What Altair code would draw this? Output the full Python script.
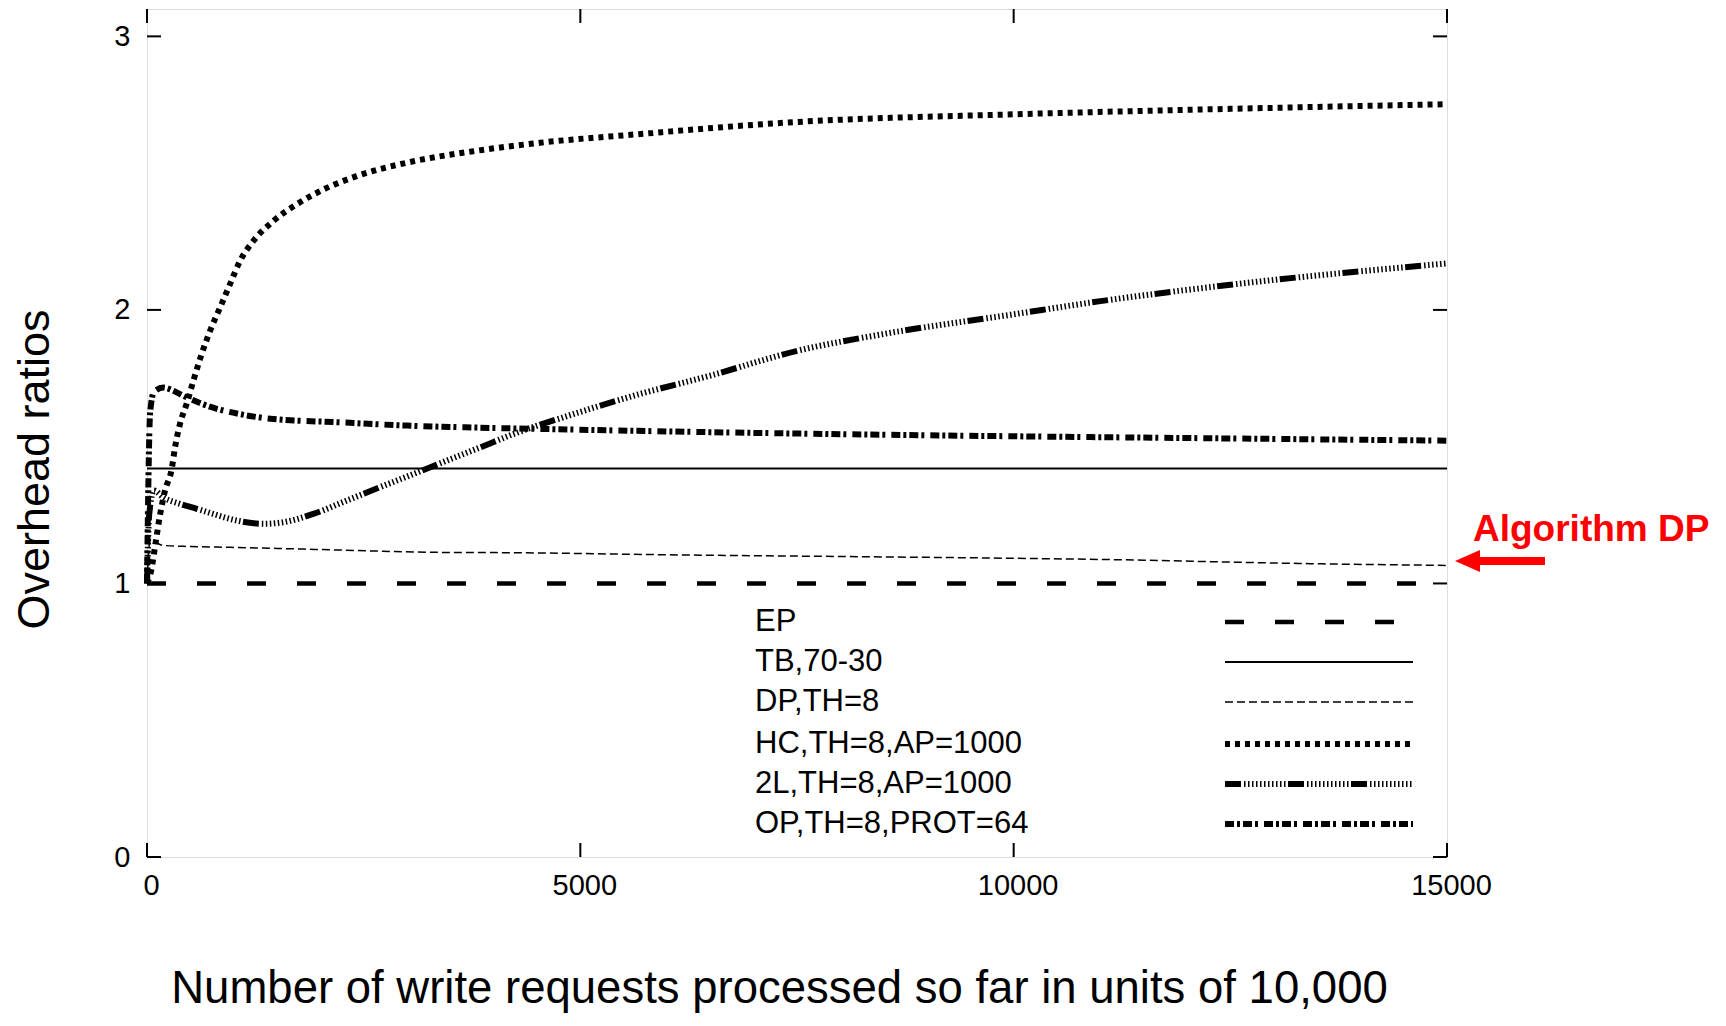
import altair as alt
import pandas as pd

# ---------------- data ----------------
X_TICKS = [0, 5000, 10000, 15000]
Y_TICKS = [0, 1, 2, 3]

LABELS = ["EP", "TB,70-30", "DP,TH=8", "HC,TH=8,AP=1000", "2L,TH=8,AP=1000", "OP,TH=8,PROT=64"]

ep_x = [0, 15000]
ep_y = [1.0, 1.0]

tb_x = [0, 15000]
tb_y = [1.42, 1.42]

dp_x = [0, 20, 35, 188, 500, 958, 1500, 2112, 2700, 3265, 4381, 5500, 6500, 7500, 8500, 10000, 11500, 12500, 13500, 15000]
dp_y = [1.0, 1.12, 1.157, 1.139, 1.135, 1.132, 1.128, 1.123, 1.118, 1.114, 1.112, 1.107, 1.103, 1.100, 1.097, 1.092, 1.085, 1.078, 1.072, 1.066]

hc_x = [0, 50, 100, 150, 208, 285, 323, 381, 458, 535, 631, 727, 842, 958, 1073, 1227, 1458, 1727, 2035, 2419, 2996, 3765, 4535, 5612, 7500, 10000, 12500, 15000]
hc_y = [1.0, 1.05, 1.15, 1.25, 1.34, 1.418, 1.497, 1.584, 1.657, 1.741, 1.839, 1.923, 2.008, 2.094, 2.179, 2.252, 2.325, 2.386, 2.440, 2.489, 2.538, 2.580, 2.611, 2.641, 2.687, 2.715, 2.735, 2.752]

tl_x = [0, 25, 80, 188, 381, 573, 765, 1035, 1342, 1573, 1919, 2304, 2688, 3073, 3458, 3842, 4227, 4919, 5612, 6500, 7510, 8464, 10000, 11002, 12500, 15000]
tl_y = [1.0, 1.25, 1.34, 1.315, 1.291, 1.273, 1.254, 1.230, 1.218, 1.224, 1.254, 1.303, 1.352, 1.400, 1.449, 1.497, 1.546, 1.619, 1.686, 1.760, 1.851, 1.910, 1.984, 2.032, 2.092, 2.170]

op_x = [0, 15, 35, 80, 188, 300, 419, 689, 1073, 1458, 2227, 2996, 3765, 4535, 5612, 7500, 10000, 12500, 15000]
op_y = [1.0, 1.35, 1.62, 1.70, 1.716, 1.705, 1.686, 1.650, 1.619, 1.601, 1.589, 1.577, 1.570, 1.565, 1.558, 1.548, 1.538, 1.530, 1.522]

ANNOT_TEXT = "Algorithm DP"
X_TITLE = "Number of write requests processed so far in units of 10,000"
Y_TITLE = "Overhead ratios"

# ---------------- layout / style ----------------
W, H = 1300, 848
FONT = "Liberation Sans"
TICK = 14

series = [
    (ep_x, ep_y, dict(strokeWidth=4.5, strokeDash=[19, 31])),
    (tb_x, tb_y, dict(strokeWidth=2)),
    (dp_x, dp_y, dict(strokeWidth=1.5, strokeDash=[8, 4])),
    (hc_x, hc_y, dict(strokeWidth=6, strokeDash=[5, 5])),
    (tl_x, tl_y, dict(strokeWidth=6, strokeDash=[16, 3] + [1.5, 2.5] * 11)),
    (op_x, op_y, dict(strokeWidth=6, strokeDash=[9, 3, 3, 3, 9, 3, 3, 6])),
]

x_axis = alt.Axis(values=X_TICKS, format="d", title=X_TITLE, grid=False, domain=False, ticks=False,
                  labelFont=FONT, labelFontSize=29, labelColor="black", labelPadding=14, labelOffset=4,
                  labelFlush=False, labelOverlap=False,
                  titleFont=FONT, titleFontSize=45.5, titleFontWeight="normal", titleColor="black",
                  titleX=632, titleY=131, titleBaseline="middle", titleAlign="center")
y_axis = alt.Axis(values=Y_TICKS, title=Y_TITLE, grid=False, domain=False, ticks=False,
                  labelFont=FONT, labelFontSize=29, labelColor="black", labelPadding=17,
                  labelFlush=False, labelOverlap=False,
                  titleFont=FONT, titleFontSize=45, titleFontWeight="normal", titleColor="black",
                  titleX=-113, titleY=460, titleBaseline="middle", titleAlign="center", titleAngle=-90)

xs = alt.Scale(domain=[0, 15000], nice=False, zero=False)
ys = alt.Scale(domain=[0, 3.1], nice=False, zero=False)


def X(f):
    return alt.X(f, type="quantitative", scale=xs, axis=x_axis)


def Y(f):
    return alt.Y(f, type="quantitative", scale=ys, axis=y_axis)


layers = []
for (sx, sy, st) in series:
    df = pd.DataFrame({"x": sx, "y": sy})
    layers.append(alt.Chart(df).mark_line(color="black", interpolate="monotone", **st)
                  .encode(x=X("x"), y=Y("y")))

# inward ticks (gnuplot style), mirrored on all four sides
xt = pd.DataFrame({"v": X_TICKS})
yt = pd.DataFrame({"v": Y_TICKS})
layers.append(alt.Chart(xt).mark_rule(color="black", strokeWidth=2)
              .encode(x=X("v"), y=alt.value(H), y2=alt.value(H - TICK)))
layers.append(alt.Chart(xt).mark_rule(color="black", strokeWidth=2)
              .encode(x=X("v"), y=alt.value(0), y2=alt.value(TICK)))
layers.append(alt.Chart(yt).mark_rule(color="black", strokeWidth=2)
              .encode(y=Y("v"), x=alt.value(0), x2=alt.value(TICK)))
layers.append(alt.Chart(yt).mark_rule(color="black", strokeWidth=2)
              .encode(y=Y("v"), x=alt.value(W - TICK), x2=alt.value(W)))

# legend inside the plot: labels left, line samples right
LEG_TEXT_X = 608
LEG_LINE_X1, LEG_LINE_X2 = 1078, 1266
LEG_ROWS = [613, 653, 693, 735, 775, 815]
for i, (lab, (_, _, st)) in enumerate(zip(LABELS, series)):
    ld = pd.DataFrame({"label": [lab]})
    layers.append(alt.Chart(ld).mark_text(align="left", baseline="middle", font=FONT, fontSize=31, color="black")
                  .encode(x=alt.value(LEG_TEXT_X), y=alt.value(LEG_ROWS[i]), text="label:N"))
    layers.append(alt.Chart(ld).mark_rule(color="black", **st)
                  .encode(x=alt.value(LEG_LINE_X1), x2=alt.value(LEG_LINE_X2), y=alt.value(LEG_ROWS[i])))

# red annotation with arrow
ad = pd.DataFrame({"t": [ANNOT_TEXT]})
layers.append(alt.Chart(ad).mark_text(align="left", baseline="middle", font=FONT, fontSize=37,
                                      fontWeight="bold", color="#ff0000")
              .encode(x=alt.value(1326), y=alt.value(521), text="t:N"))
layers.append(alt.Chart(ad).mark_rule(color="#ff0000", strokeWidth=8)
              .encode(x=alt.value(1332), x2=alt.value(1398), y=alt.value(552)))
layers.append(alt.Chart(ad).mark_point(shape="M-1,0L1,-0.88L1,0.88Z", filled=True, color="#ff0000",
                                       size=625, opacity=1)
              .encode(x=alt.value(1320.5), y=alt.value(552)))

chart = alt.layer(*layers).properties(
    width=W, height=H,
    autosize=alt.AutoSizeParams(type="none"),
    padding={"left": 139, "top": 1, "right": 271, "bottom": 161},
).configure_view(stroke="black", strokeWidth=2).configure(background="white")

chart.save("out.html", embed_options={"renderer": "svg", "actions": False})
